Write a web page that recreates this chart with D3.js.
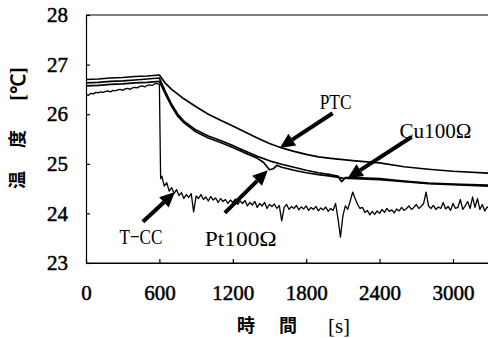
<!DOCTYPE html>
<html>
<head>
<meta charset="utf-8">
<script src="https://cdn.jsdelivr.net/npm/d3@7"></script>
<style>
body{margin:0;background:#fff;}
svg{display:block;}
</style>
</head>
<body>
<script>
// curves: time [s] and temperature [deg C]
var ptcTime=[0,100,200,300,400,500,600,650,700,800,900,1000,1100,1200,1300,1400,1500,1600,1700,1800,1900,2000,2200,2400,2600,2800,3000,3300]
var ptcTemp=[26.70,26.71,26.73,26.74,26.76,26.77,26.79,26.62,26.50,26.31,26.15,26.00,25.88,25.76,25.64,25.52,25.41,25.32,25.25,25.19,25.14,25.11,25.06,25.02,24.94,24.89,24.85,24.81]
var cuTime=[0,100,200,300,400,500,600,650,700,750,800,900,1000,1100,1200,1300,1400,1500,1600,1700,1800,1900,2000,2060,2090,2120,2200,2400,2600,2800,3000,3300]
var cuTemp=[26.63,26.64,26.66,26.67,26.69,26.71,26.73,26.45,26.20,26.00,25.86,25.68,25.56,25.47,25.37,25.26,25.15,25.06,24.99,24.93,24.87,24.82,24.78,24.75,24.64,24.72,24.72,24.70,24.65,24.61,24.59,24.57]
var ptTime=[0,100,200,300,400,500,600,650,700,750,800,900,1000,1100,1200,1300,1400,1450,1500,1530,1560,1600,1700,1800,1900,2000,2100,2200,2400,2600,2800,3000,3300]
var ptTemp=[26.57,26.58,26.60,26.61,26.63,26.64,26.66,26.40,26.16,25.96,25.83,25.64,25.52,25.43,25.33,25.22,25.11,25.03,24.88,24.90,24.97,24.93,24.87,24.82,24.78,24.75,24.71,24.70,24.68,24.64,24.60,24.58,24.55]
var tccTime=[0,20,40,60,80,100,120,140,160,180,200,220,240,260,280,300,320,340,360,380,400,420,440,460,480,500,520,540,560,580,600,610,
  620,640,660,680,700,720,740,760,780,800,820,840,860,880,900,920,940,960,980,1000,1020,1040,1060,1080,1100,1120,1140,1160,1180,1200,
  1220,1240,1260,1280,1300,1320,1340,1360,1380,1400,1420,1440,1460,1480,1500,1520,1540,1560,1580,1600,1620,1640,1660,1680,1700,
  1720,1740,1760,1780,1800,1820,1840,1860,1880,1900,1920,1940,1960,1980,2000,2020,2040,2060,2080,2100,2120,2140,2160,2180,2200,
  2220,2240,2260,2280,2300,2320,2340,2360,2380,2400,2420,2440,2460,2480,2500,2520,2540,2560,2580,2600,2620,2640,2660,2680,2700,
  2720,2740,2760,2780,2800,2820,2840,2860,2880,2900,2920,2940,2960,2980,3000,3020,3040,3060,3080,3100,3120,3140,3160,3180,3200,
  3220,3240,3260,3280,3300]
var tccTemp=[26.40,26.38,26.42,26.41,26.44,26.43,26.45,26.44,26.46,26.47,26.45,26.48,26.47,26.49,26.50,26.48,26.51,26.52,26.50,26.53,26.54,26.53,26.56,26.57,26.55,26.58,26.59,26.58,26.61,26.62,26.60,24.70,
  24.75,24.55,24.62,24.45,24.52,24.40,24.48,24.36,24.42,24.30,24.38,24.32,24.40,24.03,24.35,24.30,24.38,24.28,24.33,24.25,24.34,24.27,24.31,24.22,24.30,24.24,24.28,24.20,24.27,24.22,
  24.29,24.18,24.25,24.20,24.26,24.15,24.22,24.17,24.24,24.12,24.20,24.15,24.22,24.10,24.18,24.14,24.19,24.10,24.16,23.85,24.12,24.18,24.08,24.14,24.10,
  24.16,24.07,24.13,24.09,24.15,24.06,24.12,24.08,24.14,24.05,24.11,24.07,24.13,24.04,24.10,24.06,24.20,23.90,23.52,23.95,24.15,24.08,24.25,24.43,24.30,
  24.18,24.10,24.12,24.02,24.06,23.97,24.04,23.98,24.05,24.00,24.08,24.02,24.10,24.04,24.07,24.01,24.09,24.05,24.12,24.06,24.10,24.15,24.08,24.12,24.18,
  24.10,24.14,24.20,24.43,24.15,24.10,24.16,24.08,24.13,24.10,24.22,24.09,24.14,24.06,24.20,24.10,24.12,24.28,24.08,24.15,24.24,24.10,24.33,24.12,24.30,
  24.08,24.18,24.05,24.13,24.10]
var xTicks=[0,600,1200,1800,2400,3000]
var yTicks=[23,24,25,26,27,28]
// annotations: label, label position, arrow tail, arrow tip (data units)
var noteText=["PTC","Cu100Ω","T\u2212CC","Pt100Ω"]
var noteLabel=[[2041,26.27],[2857,25.68],[449,23.54],[1265,23.50]]
var noteTail=[[2016,26.02],[2661,25.54],[465,23.83],[1135,24.01]]
var noteTip=[[1584,25.32],[2139,24.71],[727,24.43],[1486,24.87]]
var noteWidth=[32,72,43,72]

var W=488,H=338
var svg=d3.select("body").append("svg").attr("width",W).attr("height",H)

var x=d3.scaleLinear().domain([0,3300]).range([86,86+3300*0.12233])
var y=d3.scaleLinear().domain([23,28]).range([263,15])

var serif="'Liberation Serif','Times New Roman',serif"

// top frame line
svg.append("line").attr("x1",x(0)).attr("x2",W).attr("y1",y(28)).attr("y2",y(28))
   .attr("stroke","black").attr("stroke-width",1.2)

var xAxis=svg.append("g").attr("transform","translate(0,"+y(23)+")")
  .call(d3.axisBottom(x).tickValues(xTicks).tickFormat(d3.format("d"))
    .tickSizeInner(-4).tickSizeOuter(0).tickPadding(22))
var yAxis=svg.append("g").attr("transform","translate("+x(0)+",0)")
  .call(d3.axisLeft(y).tickValues(yTicks).tickFormat(d3.format("d"))
    .tickSizeInner(-4).tickSizeOuter(0).tickPadding(18))
svg.selectAll(".domain").attr("stroke","black").attr("stroke-width",1.2)
svg.selectAll(".tick line").attr("stroke","black").attr("stroke-width",1.2)
svg.selectAll(".tick text").attr("fill","black")
   .style("font-family",serif).style("font-size","21px")
   .attr("stroke","black").attr("stroke-width",0.5)
// bottom axis line runs on to the right edge
svg.append("line").attr("x1",x(0)).attr("x2",W).attr("y1",y(23)).attr("y2",y(23))
   .attr("stroke","black").attr("stroke-width",1.2)

// curves
var plot=svg.append("g")
function drawCurve(ts,vs,w){
  var pts=ts.map(function(t,i){return [t,vs[i]]})
  plot.append("path")
      .datum(pts)
      .attr("d",d3.line().x(function(d){return x(d[0])}).y(function(d){return y(d[1])}))
      .attr("fill","none")
      .attr("stroke","black")
      .attr("stroke-width",w)
      .attr("stroke-linejoin","round")
}
drawCurve(ptcTime,ptcTemp,1.7)
drawCurve(cuTime,cuTemp,1.7)
drawCurve(ptTime,ptTemp,1.7)
drawCurve(tccTime,tccTemp,1.3)

// annotation arrows
noteText.forEach(function(txt,i){
  var x0=x(noteTail[i][0]),y0=y(noteTail[i][1])
  var x1=x(noteTip[i][0]),y1=y(noteTip[i][1])
  var a=Math.atan2(y1-y0,x1-x0)
  var hl=15,hw=7
  var bx=x1-hl*Math.cos(a),by=y1-hl*Math.sin(a)
  svg.append("line").attr("x1",x0).attr("y1",y0).attr("x2",bx).attr("y2",by)
     .attr("stroke","black").attr("stroke-width",4)
  svg.append("path")
     .attr("d","M"+x1+","+y1+"L"+(bx+hw*Math.sin(a))+","+(by-hw*Math.cos(a))
       +"L"+(bx-hw*Math.sin(a))+","+(by+hw*Math.cos(a))+"Z")
     .attr("fill","black")
  svg.append("text")
     .attr("x",x(noteLabel[i][0])).attr("y",y(noteLabel[i][1]))
     .attr("dy","0.35em")
     .attr("text-anchor","middle")
     .attr("textLength",noteWidth[i])
     .attr("lengthAdjust","spacingAndGlyphs")
     .style("font-family",serif).style("font-size","22px")
     .text(txt)
})

// axis titles
var cjk="'Noto Sans CJK JP','Noto Sans CJK SC',sans-serif"
svg.selectAll("text.xt")
   .data([["時",246],["間",288]])
   .enter().append("text")
   .attr("x",function(d){return d[1]}).attr("y",326).attr("dy","0.35em")
   .attr("text-anchor","middle")
   .style("font-family",cjk).style("font-size","18px").style("font-weight","bold")
   .text(function(d){return d[0]})
svg.append("text").attr("x",339).attr("y",326).attr("dy","0.35em")
   .attr("text-anchor","middle")
   .style("font-family",serif).style("font-size","21px")
   .text("[s]")

svg.selectAll("text.yt")
   .data([["温",180],["度",139]])
   .enter().append("text")
   .attr("transform",function(d){return "translate(18,"+d[1]+") rotate(-90)"})
   .attr("dy","0.35em")
   .attr("text-anchor","middle")
   .style("font-family",cjk).style("font-size","18px").style("font-weight","bold")
   .text(function(d){return d[0]})
svg.append("text")
   .attr("transform","translate(18,84) rotate(-90)")
   .attr("dy","0.35em")
   .attr("text-anchor","middle")
   .style("font-family",serif).style("font-size","20px").style("font-weight","bold")
   .text("[℃]")
</script>
</body>
</html>
